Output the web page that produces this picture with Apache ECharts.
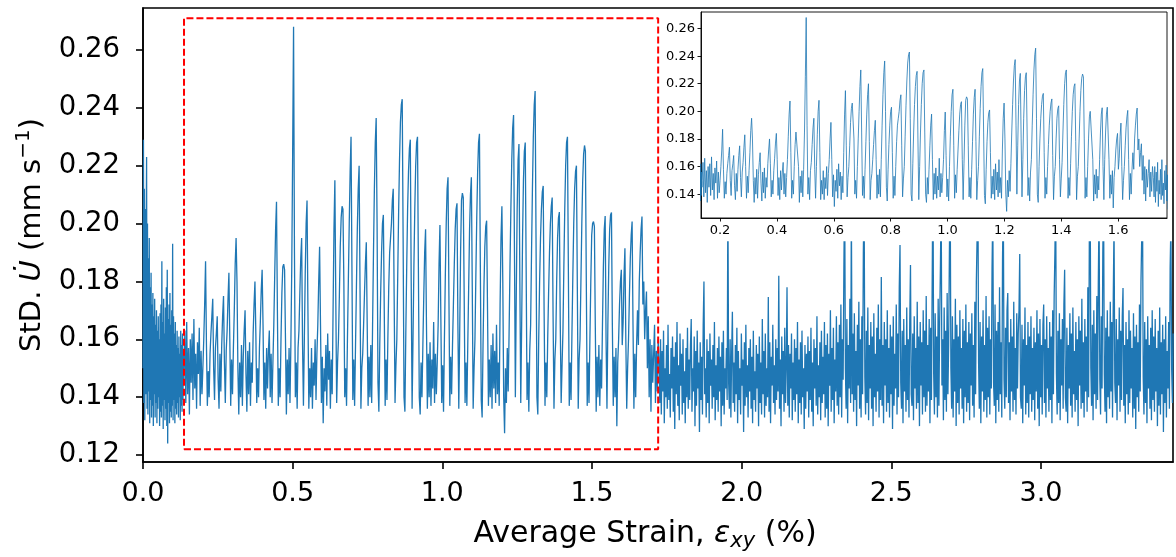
<!DOCTYPE html>
<html><head><meta charset="utf-8">
<script src="https://cdn.jsdelivr.net/npm/echarts@6/dist/echarts.min.js"></script>
<style>html,body{margin:0;padding:0;background:#fff}#c{width:1176px;height:557px}</style>
</head><body><div id="c"></div>
<script>
// ---- tick labels ----
const xTicks = [0.0, 0.5, 1.0, 1.5, 2.0, 2.5, 3.0];
const yTicks = [0.12, 0.14, 0.16, 0.18, 0.20, 0.22, 0.24, 0.26];
const insetXTicks = [0.2, 0.4, 0.6, 0.8, 1.0, 1.2, 1.4, 1.6];
const insetYTicks = [0.14, 0.16, 0.18, 0.20, 0.22, 0.24, 0.26];

// ---- axis ranges ----
const xRange = [0, 3.441];
const yRange = [0.1176, 0.2745];
const insetXRange = [0.133, 1.772];
const insetYRange = [0.1227, 0.272];

// ---- zoom box (red dashed) ----
const zoomBoxX = [0.137, 1.721];
const zoomBoxY = [0.122, 0.271];

// ---- series: StD of U-dot, sampled uniformly in strain ----
// segment A: strain 0 .. 0.1365, step 0.0015
const segA_x0 = 0, segA_dx = 0.0015;
const segA = [
0.150,0.229,0.138,0.212,0.132,0.205,0.141,0.196,0.223,0.136,
0.200,0.134,0.188,0.142,0.195,0.131,0.178,0.139,0.183,0.133,
0.172,0.137,0.176,0.130,0.168,0.141,0.174,0.133,0.165,0.138,
0.170,0.131,0.163,0.136,0.168,0.140,0.160,0.130,0.169,0.135,
0.172,0.133,0.187,0.137,0.166,0.129,0.174,0.139,0.162,0.132,
0.171,0.136,0.178,0.130,0.184,0.124,0.167,0.138,0.172,0.131,
0.176,0.135,0.165,0.133,0.170,0.137,0.193,0.132,0.168,0.139,
0.162,0.131,0.166,0.136,0.158,0.134,0.163,0.138,0.157,0.133,
0.161,0.140,0.155,0.132,0.163,0.137,0.158,0.135,0.162,0.139,
0.156,0.145
];
// segment B: strain 0.137 .. 1.721, step 0.003
const segB_x0 = 0.137, segB_dx = 0.003;
const segB = [
0.150,0.163,0.138,0.166,0.141,0.157,0.134,0.160,0.145,0.162,
0.139,0.167,0.143,0.155,0.136,0.159,0.148,0.164,0.137,0.156,
0.141,0.150,0.160,0.172,0.187,0.158,0.137,0.149,0.140,0.155,
0.162,0.168,0.174,0.150,0.139,0.157,0.162,0.168,0.146,0.136,
0.155,0.142,0.158,0.168,0.175,0.152,0.138,0.156,0.163,0.174,
0.183,0.160,0.137,0.153,0.141,0.157,0.170,0.186,0.195,0.180,
0.150,0.134,0.152,0.140,0.158,0.137,0.154,0.163,0.170,0.148,
0.135,0.156,0.141,0.159,0.137,0.152,0.145,0.162,0.172,0.180,
0.162,0.138,0.150,0.140,0.157,0.166,0.177,0.184,0.165,0.139,
0.152,0.136,0.157,0.143,0.156,0.163,0.140,0.155,0.138,0.152,
0.165,0.182,0.198,0.2075,0.170,0.137,0.150,0.140,0.160,0.176,
0.185,0.186,0.184,0.160,0.134,0.153,0.141,0.157,0.138,0.158,
0.185,0.225,0.268,0.190,0.140,0.152,0.136,0.157,0.163,0.176,
0.188,0.195,0.158,0.137,0.160,0.183,0.200,0.208,0.170,0.136,
0.150,0.140,0.157,0.136,0.152,0.144,0.160,0.139,0.155,0.165,
0.180,0.192,0.165,0.138,0.154,0.131,0.150,0.142,0.158,0.137,
0.162,0.146,0.156,0.136,0.153,0.141,0.170,0.198,0.215,0.175,
0.138,0.152,0.160,0.175,0.192,0.202,0.206,0.205,0.180,0.140,
0.150,0.137,0.160,0.180,0.200,0.218,0.230,0.185,0.139,0.153,
0.137,0.158,0.178,0.198,0.212,0.220,0.178,0.136,0.150,0.155,
0.165,0.176,0.186,0.1935,0.165,0.137,0.154,0.140,0.158,0.138,
0.165,0.190,0.212,0.228,0.2365,0.200,0.145,0.135,0.158,0.176,
0.190,0.200,0.203,0.170,0.137,0.153,0.139,0.160,0.178,0.190,
0.195,0.200,0.208,0.212,0.175,0.138,0.151,0.160,0.182,0.204,
0.222,0.235,0.241,0.243,0.195,0.140,0.135,0.162,0.185,0.205,
0.218,0.226,0.229,0.180,0.136,0.160,0.185,0.205,0.220,0.228,
0.230,0.185,0.140,0.134,0.152,0.140,0.158,0.175,0.190,0.198,
0.165,0.136,0.155,0.140,0.159,0.137,0.153,0.143,0.166,0.138,
0.155,0.141,0.152,0.165,0.186,0.1995,0.168,0.138,0.151,0.135,
0.160,0.182,0.200,0.212,0.216,0.175,0.137,0.154,0.141,0.158,
0.172,0.186,0.198,0.205,0.207,0.165,0.136,0.162,0.190,0.208,
0.2105,0.209,0.175,0.138,0.152,0.137,0.158,0.178,0.198,0.210,
0.216,0.178,0.136,0.150,0.160,0.182,0.202,0.218,0.228,0.231,
0.185,0.139,0.133,0.158,0.178,0.192,0.199,0.201,0.170,0.137,
0.153,0.140,0.158,0.136,0.162,0.143,0.156,0.138,0.165,0.141,
0.152,0.137,0.172,0.195,0.206,0.180,0.140,0.1275,0.150,0.138,
0.157,0.142,0.162,0.185,0.205,0.222,0.233,0.2375,0.190,0.140,
0.175,0.205,0.222,0.2275,0.180,0.138,0.165,0.195,0.215,0.225,
0.228,0.185,0.139,0.152,0.135,0.156,0.165,0.190,0.212,0.230,
0.241,0.2458,0.195,0.140,0.134,0.160,0.180,0.195,0.205,0.211,
0.213,0.170,0.137,0.152,0.140,0.160,0.176,0.190,0.200,0.206,
0.209,0.168,0.136,0.153,0.160,0.180,0.195,0.202,0.204,0.165,
0.138,0.151,0.163,0.185,0.205,0.220,0.228,0.230,0.185,0.137,
0.152,0.139,0.162,0.182,0.200,0.212,0.218,0.220,0.178,0.136,
0.153,0.160,0.180,0.200,0.215,0.224,0.227,0.225,0.180,0.137,
0.152,0.138,0.160,0.180,0.196,0.200,0.2007,0.199,0.165,0.135,
0.154,0.140,0.158,0.137,0.153,0.143,0.165,0.185,0.198,0.2026,
0.160,0.136,0.165,0.185,0.198,0.203,0.2038,0.165,0.137,0.154,
0.140,0.157,0.130,0.152,0.160,0.172,0.180,0.184,0.158,0.166,
0.182,0.1915,0.160,0.136,0.150,0.160,0.175,0.188,0.196,0.2007,
0.165,0.136,0.155,0.140,0.158,0.170,0.158,0.180,0.190,0.198,
0.2024,0.172,0.180,0.160,0.170,0.1765,0.150,0.168,0.140,0.160,
0.135,0.158,0.145,0.155,0.165,0.138,0.156,0.142,0.160
];
// segment C: strain 1.724 .. 3.441, step 0.0025
const segC_x0 = 1.724, segC_dx = 0.0025;
const segC = [
0.152,0.138,0.160,0.134,0.156,0.142,0.163,0.131,0.150,0.140,0.158,0.136,0.165,0.139,0.148,0.133,0.157,0.143,0.161,0.135,
0.154,0.129,0.159,0.141,0.166,0.137,0.151,0.132,0.162,0.144,0.155,0.134,0.160,0.138,0.149,0.131,0.157,0.140,0.164,0.136,
0.153,0.139,0.158,0.167,0.135,0.150,0.142,0.161,0.130,0.156,0.137,0.163,0.143,0.152,0.128,0.159,0.139,0.154,0.134,0.165,
0.180,0.141,0.150,0.133,0.160,0.138,0.156,0.131,0.162,0.144,0.153,0.136,0.158,0.140,0.166,0.132,0.151,0.139,0.157,0.135,
0.161,0.142,0.154,0.130,0.159,0.137,0.163,0.134,0.150,0.143,0.157,0.139,0.210,0.145,0.136,0.160,0.133,0.155,0.1695,0.138,
0.152,0.135,0.158,0.141,0.164,0.131,0.156,0.139,0.150,0.134,0.162,0.144,0.153,0.128,0.159,0.137,0.165,0.140,0.151,0.133,
0.157,0.142,0.160,0.136,0.154,0.131,0.163,0.139,0.149,0.135,0.158,0.143,0.155,0.130,0.161,0.138,0.152,0.134,0.167,0.141,
0.156,0.133,0.162,0.137,0.150,0.140,0.1746,0.135,0.159,0.131,0.154,0.144,0.165,0.138,0.151,0.134,0.160,0.139,0.157,0.142,
0.182,0.136,0.153,0.130,0.161,0.141,0.156,0.135,0.164,0.138,0.150,0.178,0.137,0.158,0.133,0.155,0.143,0.162,0.132,0.152,
0.139,0.160,0.135,0.157,0.141,0.166,0.131,0.153,0.138,0.159,0.134,0.163,0.140,0.150,0.129,0.158,0.136,0.155,0.142,0.161,
0.133,0.156,0.139,0.164,0.135,0.152,0.130,0.160,0.143,0.157,0.137,0.168,0.134,0.151,0.140,0.159,0.132,0.163,0.138,0.154,
0.141,0.166,0.133,0.158,0.136,0.162,0.130,0.155,0.144,0.170,0.135,0.157,0.139,0.164,0.131,0.153,0.142,0.168,0.137,0.159,
0.134,0.165,0.140,0.172,0.133,0.160,0.146,0.185,0.215,0.150,0.136,0.167,0.131,0.158,0.143,0.174,0.138,0.205,0.141,0.162,
0.135,0.169,0.139,0.156,0.130,0.165,0.144,0.173,0.136,0.160,0.133,0.168,0.141,0.190,0.210,0.147,0.134,0.163,0.138,0.171,
0.132,0.158,0.143,0.166,0.136,0.161,0.130,0.169,0.140,0.155,0.135,0.164,0.142,0.172,0.133,0.160,0.139,0.1815,0.137,0.158,
0.131,0.166,0.144,0.160,0.135,0.170,0.138,0.157,0.133,0.165,0.141,0.161,0.129,0.168,0.137,0.155,0.143,0.172,0.134,0.162,
0.140,0.178,0.1926,0.145,0.136,0.163,0.131,0.167,0.142,0.158,0.135,0.171,0.139,0.160,0.133,0.166,0.1857,0.141,0.137,0.162,
0.132,0.168,0.143,0.157,0.136,0.173,0.138,0.161,0.130,0.166,0.144,0.159,0.134,0.170,0.140,0.163,0.135,0.175,0.137,0.158,
0.142,0.167,0.131,0.164,0.139,0.180,0.220,0.148,0.134,0.169,0.140,0.161,0.133,0.174,0.137,0.166,0.185,0.210,0.144,0.160,
0.132,0.171,0.139,0.163,0.135,0.176,0.141,0.158,0.190,0.215,0.150,0.136,0.168,0.133,0.160,0.142,0.174,0.130,0.165,0.138,
0.161,0.134,0.170,0.143,0.157,0.136,0.167,0.131,0.163,0.140,0.172,0.135,0.159,0.138,0.166,0.132,0.162,0.144,0.169,0.137,
0.158,0.133,0.173,0.141,0.180,0.195,0.220,0.152,0.136,0.166,0.131,0.161,0.142,0.170,0.135,0.158,0.139,0.175,0.133,0.164,
0.140,0.168,0.134,0.160,0.143,0.185,0.205,0.145,0.137,0.172,0.131,0.163,0.139,0.166,0.135,0.178,0.141,0.159,0.133,0.188,
0.210,0.146,0.136,0.164,0.140,0.170,0.176,0.138,0.159,0.132,0.167,0.142,0.161,0.135,0.173,0.139,0.157,0.134,0.169,0.143,
0.162,0.170,0.1895,0.140,0.136,0.165,0.131,0.160,0.144,0.171,0.134,0.158,0.138,0.166,0.133,0.161,0.141,0.168,0.135,0.157,
0.139,0.164,0.132,0.159,0.142,0.170,0.136,0.162,0.130,0.167,0.140,0.158,0.134,0.165,0.172,0.138,0.160,0.133,0.168,0.143,
0.157,0.135,0.166,0.139,0.161,0.131,0.170,0.141,0.175,0.190,0.210,0.148,0.134,0.163,0.138,0.169,0.132,0.160,0.144,0.167,
0.136,0.172,0.184,0.140,0.135,0.164,0.131,0.158,0.143,0.169,0.137,0.162,0.133,0.171,0.141,0.156,0.135,0.166,0.139,0.160,
0.130,0.168,0.144,0.163,0.136,0.174,0.138,0.159,0.133,0.167,0.142,0.161,0.135,0.178,0.140,0.195,0.220,0.150,0.137,0.165,
0.132,0.170,0.141,0.162,0.136,0.175,0.139,0.180,0.205,0.146,0.134,0.168,0.143,0.190,0.210,0.148,0.135,0.164,0.131,0.170,
0.140,0.161,0.136,0.173,0.142,0.166,0.133,0.175,0.200,0.145,0.138,0.167,0.132,0.160,0.144,0.171,0.135,0.163,0.139,0.168,
0.1777,0.137,0.158,0.131,0.166,0.141,0.160,0.134,0.170,0.138,0.163,0.143,0.157,0.133,0.169,0.136,0.161,0.129,0.165,0.140,
0.159,0.135,0.172,0.142,0.180,0.195,0.210,0.147,0.134,0.166,0.138,0.160,0.131,0.168,0.143,0.158,0.136,0.164,0.132,0.170,
0.139,0.161,0.135,0.167,0.142,0.157,0.130,0.163,0.137,0.171,0.134,0.159,0.141,0.165,0.128,0.160,0.138,0.168,0.133,0.156,
0.143,0.166,0.136,0.185,0.200,0.150,0.138,0.162
];

// ---- build [x, y] pairs ----
function seg(x0, dx, vals) { return vals.map((v, i) => [+(x0 + i * dx).toFixed(5), v]); }
const lineData = seg(segA_x0, segA_dx, segA).concat(seg(segB_x0, segB_dx, segB), seg(segC_x0, segC_dx, segC));
const boxData = [
  [zoomBoxX[0], zoomBoxY[0]], [zoomBoxX[1], zoomBoxY[0]],
  [zoomBoxX[1], zoomBoxY[1]], [zoomBoxX[0], zoomBoxY[1]], [zoomBoxX[0], zoomBoxY[0]]
];

const FONT = 'DejaVu Sans';
const BLUE = '#1f77b4';
const chart = echarts.init(document.getElementById('c'), null, {renderer: 'canvas'});

const mainGrid = {left: 143, top: 8, width: 1030, height: 454};
const insetGrid = {left: 701, top: 12, width: 466, height: 206};

chart.setOption({
  animation: false,
  backgroundColor: '#fff',
  textStyle: {fontFamily: FONT},
  grid: [
    Object.assign({show: true, borderColor: '#000', borderWidth: 1.6, backgroundColor: 'transparent', z: 0}, mainGrid),
    Object.assign({show: true, borderColor: '#000', borderWidth: 0.9, backgroundColor: 'transparent', z: 20}, insetGrid)
  ],
  graphic: {elements: [{
    type: 'rect', z: 10, silent: true,
    shape: {x: 661, y: 9.2, width: 511, height: 232},
    style: {fill: '#fff'}
  }]},
  xAxis: [{
    gridIndex: 0, type: 'value', min: xRange[0], max: xRange[1],
    name: '{t|Average Strain, }{e|ε}{s|xy}{t| (%)}',
    nameLocation: 'middle', nameGap: 54,
    nameTextStyle: {padding: [0, 26, 0, 0], rich: {
      t: {fontFamily: FONT, fontSize: 30, color: '#000', lineHeight: 36},
      e: {fontFamily: FONT, fontSize: 30, fontStyle: 'italic', color: '#000', lineHeight: 36},
      s: {fontFamily: FONT, fontSize: 21, fontStyle: 'italic', color: '#000', verticalAlign: 'bottom', lineHeight: 36}
    }},
    axisLine: {show: true, onZero: false, lineStyle: {color: '#000', width: 1.6}},
    axisTick: {show: true, customValues: xTicks, length: 7, lineStyle: {color: '#000', width: 1.6}},
    axisLabel: {customValues: xTicks, formatter: v => v.toFixed(1), fontSize: 27, color: '#000', margin: 18, fontFamily: FONT},
    splitLine: {show: false}
  }, {
    gridIndex: 1, type: 'value', min: insetXRange[0], max: insetXRange[1], z: 20,
    axisLine: {show: true, onZero: false, lineStyle: {color: '#000', width: 0.9}},
    axisTick: {show: true, customValues: insetXTicks, length: 3.5, lineStyle: {color: '#000', width: 0.9}},
    axisLabel: {customValues: insetXTicks, formatter: v => v.toFixed(1), fontSize: 13, color: '#000', margin: 6, fontFamily: FONT},
    splitLine: {show: false}
  }],
  yAxis: [{
    gridIndex: 0, type: 'value', min: yRange[0], max: yRange[1],
    name: '{t|StD. }{u|U\u0307}{t| (mm s}{p|\u22121}{t|)}',
    nameLocation: 'middle', nameGap: 93, nameRotate: 90,
    nameTextStyle: {rich: {
      t: {fontFamily: FONT, fontSize: 29, color: '#000', lineHeight: 36},
      u: {fontFamily: FONT, fontSize: 29, fontStyle: 'italic', color: '#000', lineHeight: 36},
      p: {fontFamily: FONT, fontSize: 20, color: '#000', verticalAlign: 'top', lineHeight: 36}
    }},
    axisLine: {show: true, onZero: false, lineStyle: {color: '#000', width: 1.6}},
    axisTick: {show: true, customValues: yTicks, length: 7, lineStyle: {color: '#000', width: 1.6}},
    axisLabel: {customValues: yTicks, formatter: v => v.toFixed(2), fontSize: 27.5, color: '#000', margin: 23, fontFamily: FONT},
    splitLine: {show: false}
  }, {
    gridIndex: 1, type: 'value', min: insetYRange[0], max: insetYRange[1], z: 20,
    axisLine: {show: true, onZero: false, lineStyle: {color: '#000', width: 0.9}},
    axisTick: {show: true, customValues: insetYTicks, length: 3.5, lineStyle: {color: '#000', width: 0.9}},
    axisLabel: {customValues: insetYTicks, formatter: v => v.toFixed(2), fontSize: 13, color: '#000', margin: 6, fontFamily: FONT},
    splitLine: {show: false}
  }],
  series: [{
    type: 'line', xAxisIndex: 0, yAxisIndex: 0, data: lineData,
    symbol: 'none', showSymbol: false, clip: true, z: 2,
    lineStyle: {color: BLUE, width: 1.3}
  }, {
    type: 'line', xAxisIndex: 0, yAxisIndex: 0, data: boxData,
    symbol: 'none', showSymbol: false, z: 3,
    lineStyle: {color: '#ff0000', width: 2, type: [7, 3]}
  }, {
    type: 'line', xAxisIndex: 1, yAxisIndex: 1, data: lineData,
    symbol: 'none', showSymbol: false, clip: true, z: 21,
    lineStyle: {color: BLUE, width: 0.8}
  }]
});
</script>
</body></html>
